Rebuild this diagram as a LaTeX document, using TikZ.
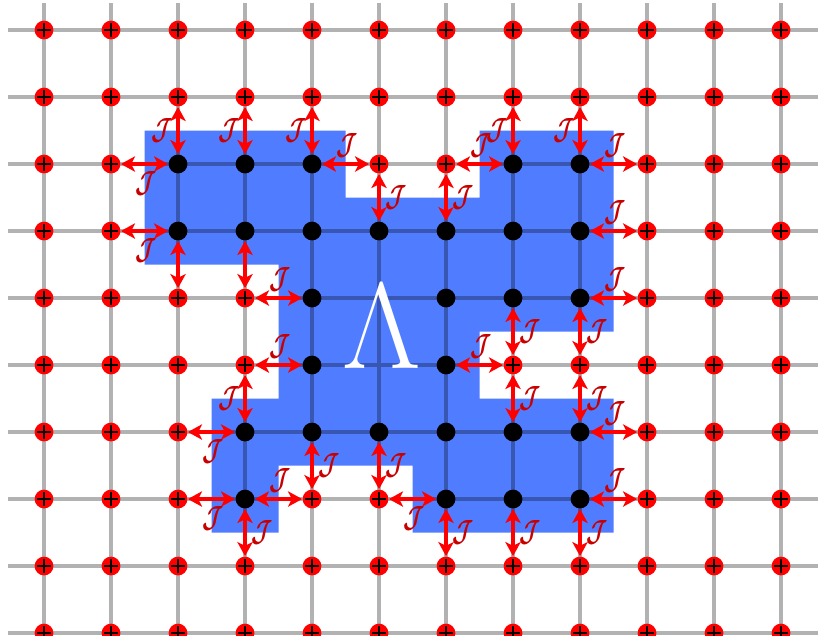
\RequirePackage{fix-cm}
\documentclass[tikz,border=0pt]{standalone}
\usepackage{bm}
\usepackage{graphicx}
\usetikzlibrary{arrows.meta}

\definecolor{lamblue}{RGB}{80,125,255}
\definecolor{jred}{RGB}{200,0,0}

\newcommand{\coup}{\scalebox{0.72}[1]{$\bm{\mathcal{J}}$}}

\tikzset{
    gridline/.style={black, draw opacity=0.3, line width=1.35pt},
    site/.style={circle, fill=red, inner sep=0pt, minimum size=0.28cm,
        path picture={\draw[line width=0.9pt]
            ([xshift=-0.1cm]path picture bounding box.center) -- ++(0.2,0)
            ([yshift=-0.1cm]path picture bounding box.center) -- ++(0,0.2);}},
    spin/.style={circle, fill=black, inner sep=0pt, minimum size=0.28cm},
    flux/.style={red, line width=1.3pt,
        {Stealth[length=6pt,width=6.5pt,inset=1.6pt]}-{Stealth[length=6pt,width=6.5pt,inset=1.6pt]}},
    jlab/.style={text=jred, font=\fontsize{13}{13}\selectfont, inner sep=0pt},
    jl/.style={jlab, xshift=-0.23cm},
    jr/.style={jlab, xshift=0.25cm},
    ja/.style={jlab, yshift=0.28cm, xshift=0.03cm},
    jb/.style={jlab, yshift=-0.29cm, xshift=0.03cm},
}

\begin{document}
\begin{tikzpicture}
    \useasboundingbox (-0.657,0.448) rectangle (11.552,-9.03);
    \fill[white] (-0.657,0.448) rectangle (11.552,-9.03);

    % region Lambda
    \fill[lamblue] (1.5,-1.5) -- (4.5,-1.5) -- (4.5,-2.5) -- (6.5,-2.5) -- (6.5,-1.5)
        -- (8.5,-1.5) -- (8.5,-4.5) -- (6.5,-4.5) -- (6.5,-5.5) -- (8.5,-5.5)
        -- (8.5,-7.5) -- (5.5,-7.5) -- (5.5,-6.5) -- (3.5,-6.5) -- (3.5,-7.5)
        -- (2.5,-7.5) -- (2.5,-5.5) -- (3.5,-5.5) -- (3.5,-3.5) -- (1.5,-3.5) -- cycle;

    % lattice
    \draw[gridline]
        \foreach \y in {0,...,9} {(-0.54,-\y) -- (11.552,-\y)}
        \foreach \x in {0,...,11} {(\x,0.40) -- (\x,-9.03)};

    \node[text=white, font=\fontsize{52}{52}\selectfont, anchor=base] (lam) at (5.04,-5.05) {$\Lambda$};

    % sites inside Lambda
    \foreach \x/\y in {2/2,3/2,4/2,7/2,8/2, 2/3,3/3,4/3,5/3,6/3,7/3,8/3,
                       4/4,6/4,7/4,8/4, 4/5,6/5, 3/6,4/6,5/6,6/6,7/6,8/6,
                       3/7,6/7,7/7,8/7} {
        \node[spin] (s\x-\y) at (\x,-\y) {};
        \expandafter\gdef\csname in\x-\y\endcsname{}
    }
    \expandafter\gdef\csname in5-4\endcsname{}
    \expandafter\gdef\csname in5-5\endcsname{}

    % sites outside Lambda
    \foreach \x in {0,...,11} {
        \foreach \y in {0,...,9} {
            \ifcsname in\x-\y\endcsname\else
                \node[site] (s\x-\y) at (\x,-\y) {};
            \fi
        }
    }

    % couplings across the boundary
    \foreach \b/\r/\s in {2-2/2-1/jl, 2-2/1-2/jb, 3-2/3-1/jl, 4-2/4-1/jl, 4-2/5-2/ja,
                          7-2/7-1/jl, 7-2/6-2/ja, 8-2/8-1/jl, 8-2/9-2/ja,
                          2-3/1-3/jb, 5-3/5-2/jr, 6-3/6-2/jr, 8-3/9-3/ja,
                          4-4/3-4/ja, 7-4/7-5/jr, 8-4/9-4/ja, 8-4/8-5/jr,
                          4-5/3-5/ja, 6-5/7-5/ja,
                          3-6/3-5/jl, 3-6/2-6/jb, 4-6/4-7/jr, 5-6/5-7/jr,
                          7-6/7-5/jr, 8-6/8-5/jr, 8-6/9-6/ja,
                          3-7/2-7/jb, 3-7/4-7/ja, 3-7/3-8/jr, 6-7/5-7/jb,
                          6-7/6-8/jr, 7-7/7-8/jr, 8-7/8-8/jr, 8-7/9-7/ja}
        \draw[flux] (s\r) -- node[\s] {\coup} (s\b);
    \draw[flux] (s2-4) -- (s2-3);
    \draw[flux] (s3-4) -- (s3-3);
\end{tikzpicture}
\end{document}
